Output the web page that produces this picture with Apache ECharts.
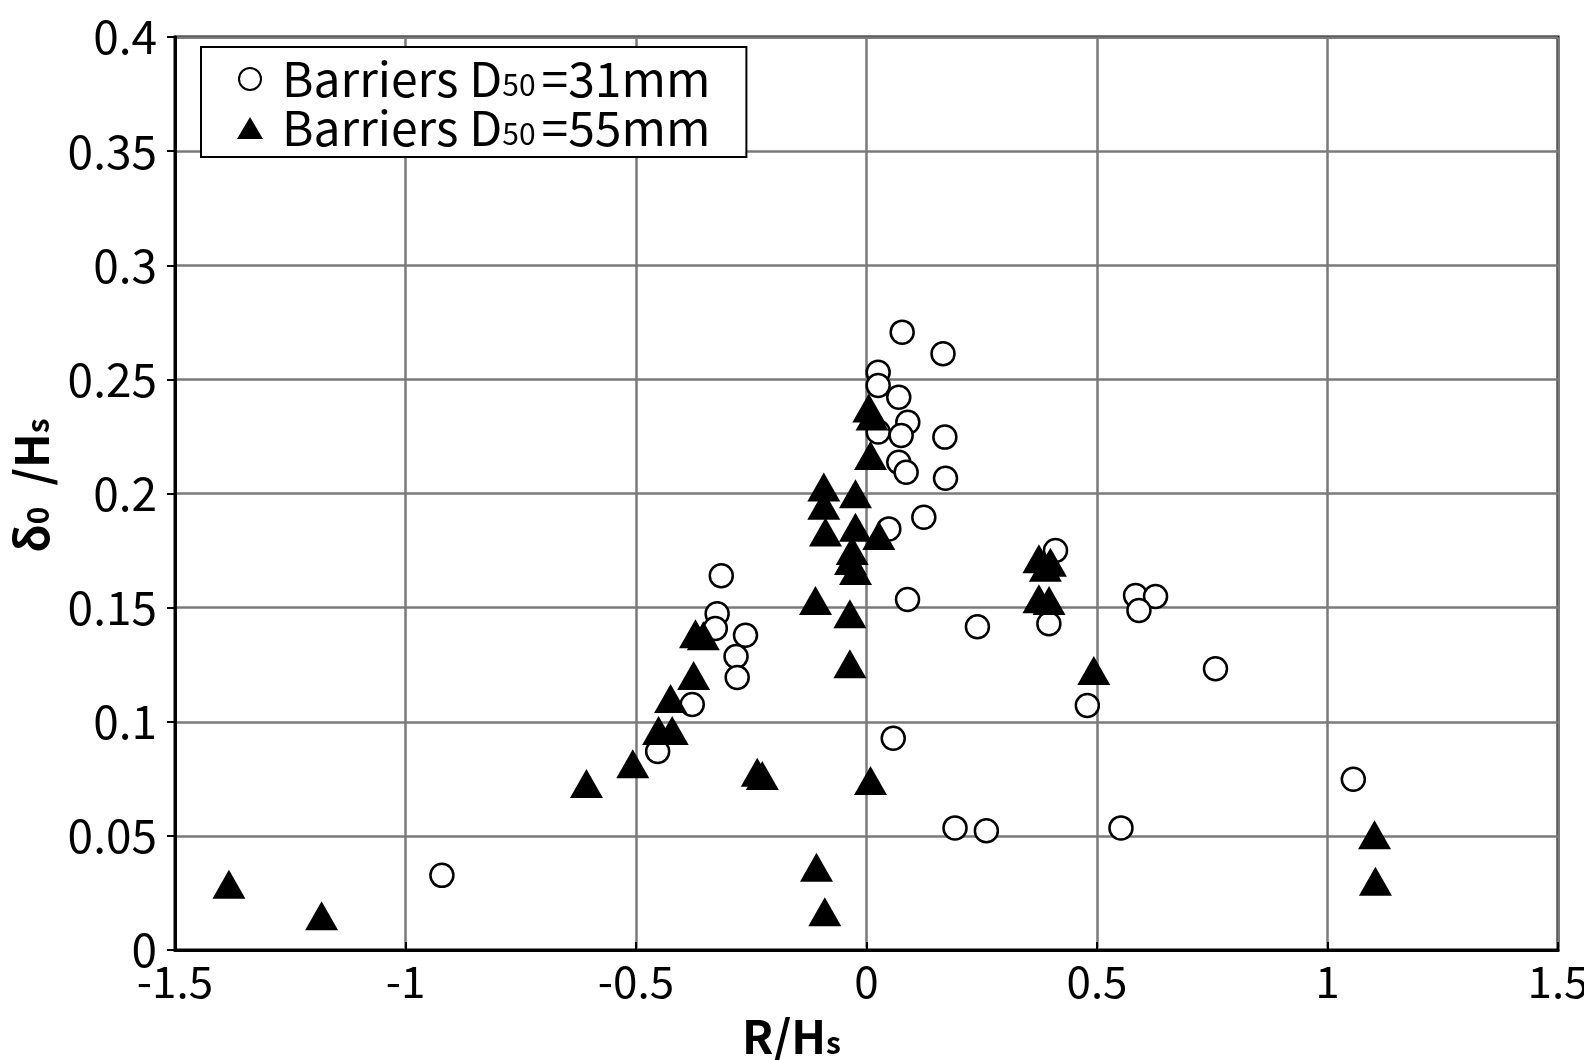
<!DOCTYPE html>
<html>
<head>
<meta charset="utf-8">
<script src="https://cdn.jsdelivr.net/npm/echarts@6/dist/echarts.min.js"></script>
<style>
html,body{margin:0;padding:0;background:#fff;}
#chart{width:1584px;height:1060px;}
</style>
</head>
<body>
<div id="chart"></div>
<script>
// ---- data ----
const seriesNames = ['Barriers D50 =31mm', 'Barriers D50 =55mm'];
const legendParts = [['Barriers D', '50', '=31mm'], ['Barriers D', '50', '=55mm']];

const x31 = [-0.921, -0.453, -0.378, -0.315, -0.324, -0.328, -0.2625, -0.283, -0.2805, 0.058,
  0.0774, 0.166, 0.0253, 0.0253, 0.070, 0.0896, 0.0253, 0.0752, 0.170, 0.070,
  0.086, 0.1714, 0.1243, 0.0484, 0.089, 0.410, 0.3956, 0.2406, 0.5836, 0.627,
  0.591, 0.757, 0.479, 0.192, 0.260, 0.552, 1.056];
const y31 = [0.0327, 0.087, 0.1076, 0.164, 0.1473, 0.1409, 0.1379, 0.1286, 0.1194, 0.0928,
  0.2707, 0.2612, 0.2531, 0.2473, 0.2422, 0.2312, 0.2269, 0.2254, 0.2247, 0.2137,
  0.2093, 0.2067, 0.1896, 0.1845, 0.1536, 0.175, 0.1429, 0.1416, 0.1553, 0.1549,
  0.1487, 0.1232, 0.1071, 0.0535, 0.0522, 0.0535, 0.0748];

const x55 = [-1.383, -1.182, -0.6075, -0.507, -0.451, -0.4215, -0.425, -0.375, -0.371, -0.354,
  -0.237, -0.226, -0.1107, -0.1085, -0.0905, -0.0926, -0.0926, -0.089, -0.0239, -0.0239,
  -0.031, -0.0347, -0.0239, -0.036, -0.036, 0.0087, 0.005, 0.012, 0.0087, 0.0267,
  0.374, 0.399, 0.388, 0.374, 0.396, 0.493, 1.102, 1.104];
const y55 = [0.0288, 0.0150, 0.073, 0.0816, 0.0962, 0.0962, 0.1102, 0.1203, 0.1385, 0.1377,
  0.0779, 0.0765, 0.1531, 0.0363, 0.0168, 0.2028, 0.1948, 0.1831, 0.1999, 0.1852,
  0.175, 0.1707, 0.1663, 0.1473, 0.1254, 0.0743, 0.2375, 0.234, 0.2166, 0.1816,
  0.1714, 0.1699, 0.1677, 0.1539, 0.1531, 0.1225, 0.0505, 0.0301];

const xMin = -1.5, xMax = 1.5, xStep = 0.5;
const yMin = 0, yMax = 0.4, yStep = 0.05;

// ---- chart ----
const FONT = '"Noto Sans CJK KR", "Noto Sans", sans-serif';
const pairs = (xs, ys) => xs.map((v, i) => [v, ys[i]]);

const chart = echarts.init(document.getElementById('chart'), null, {renderer: 'canvas'});
chart.setOption({
  animation: false,
  backgroundColor: '#fff',
  grid: {
    left: 175, right: 26, top: 37, bottom: 110,
    containLabel: false, outerBoundsMode: 'none',
    show: true, borderColor: '#000', borderWidth: 3, backgroundColor: '#fff'
  },
  legend: {
    orient: 'vertical',
    left: 201, top: 47,
    padding: [8, 36, 4, 36],
    itemGap: 0,
    itemWidth: 26, itemHeight: 22,
    backgroundColor: '#fff',
    borderColor: '#000', borderWidth: 2,
    data: seriesNames,
    formatter: function (name) {
      const p = legendParts[seriesNames.indexOf(name)];
      return '{t|' + p[0] + '}{s|' + p[1] + '}{e|' + p[2] + '}';
    },
    textStyle: {
      padding: [0, 0, 0, 14],
      rich: {
        t: {fontFamily: FONT, fontSize: 48, color: '#000', lineHeight: 50},
        e: {fontFamily: FONT, fontSize: 48, color: '#000', lineHeight: 50, padding: [0, 0, 0, 6]},
        s: {fontFamily: FONT, fontSize: 30, color: '#000', lineHeight: 50, verticalAlign: 'bottom', padding: [0, 0, 4, 0]}
      }
    }
  },
  xAxis: {
    type: 'value', min: xMin, max: xMax, interval: xStep,
    name: '{b|R/H}{s|s}',
    nameLocation: 'middle', nameGap: 62,
    nameTextStyle: {
      padding: [0, 150, 0, 0],
      rich: {
        b: {fontFamily: FONT, fontSize: 46, fontWeight: 'bold', color: '#000', lineHeight: 50},
        s: {fontFamily: FONT, fontSize: 30, fontWeight: 'bold', color: '#000', lineHeight: 50, verticalAlign: 'bottom', padding: [0, 0, 4, 0]}
      }
    },
    axisLine: {show: true, onZero: false, lineStyle: {color: '#000', width: 3}},
    axisTick: {show: true, inside: true, length: 8, lineStyle: {color: '#000', width: 2}},
    axisLabel: {fontFamily: FONT, fontSize: 44, color: '#000', margin: 9},
    splitLine: {show: true, lineStyle: {color: '#7a7a7a', width: 2.5}}
  },
  yAxis: {
    type: 'value', min: yMin, max: yMax, interval: yStep,
    name: '{b|δ}{s|0}{b|  /H}{s|s}',
    nameLocation: 'middle', nameGap: 118, nameRotate: 90,
    nameTextStyle: {
      padding: [0, 0, 0, 16],
      rich: {
        b: {fontFamily: FONT, fontSize: 46, fontWeight: 'bold', color: '#000', lineHeight: 50},
        s: {fontFamily: FONT, fontSize: 30, fontWeight: 'bold', color: '#000', lineHeight: 50, verticalAlign: 'bottom', padding: [0, 0, 4, 0]}
      }
    },
    axisLine: {show: true, onZero: false, lineStyle: {color: '#000', width: 3}},
    axisTick: {show: true, inside: false, length: 8, lineStyle: {color: '#000', width: 2}},
    axisLabel: {fontFamily: FONT, fontSize: 46, color: '#000', margin: 18},
    splitLine: {show: true, lineStyle: {color: '#7a7a7a', width: 2.5}}
  },
  series: [
    {
      name: seriesNames[0], type: 'scatter',
      data: pairs(x31, y31),
      symbol: 'circle', symbolSize: 23,
      itemStyle: {color: '#fff', borderColor: '#000', borderWidth: 2.5, opacity: 1},
      z: 2
    },
    {
      name: seriesNames[1], type: 'scatter',
      data: pairs(x55, y55),
      symbol: 'triangle', symbolSize: [33, 29],
      itemStyle: {color: '#000', borderColor: '#000', borderWidth: 0, opacity: 1},
      z: 3
    }
  ]
});
</script>
</body>
</html>
